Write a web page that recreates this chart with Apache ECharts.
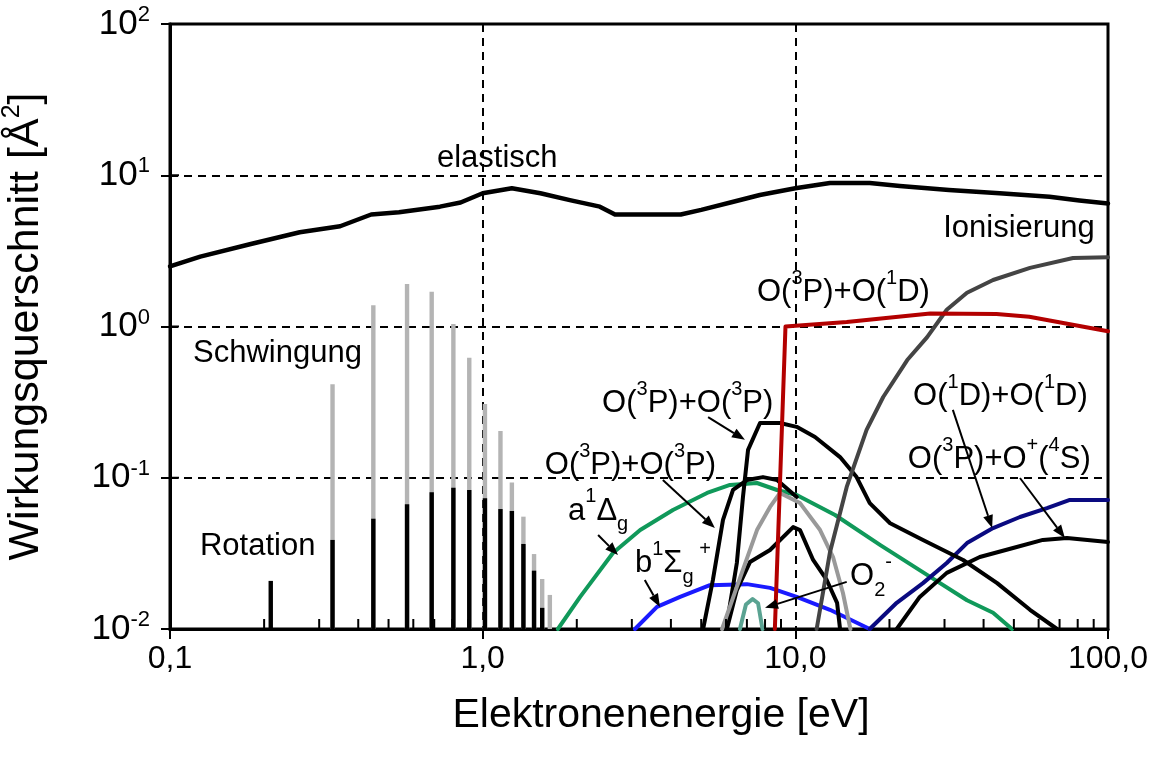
<!DOCTYPE html>
<html><head><meta charset="utf-8">
<script src="https://cdn.jsdelivr.net/npm/echarts@6/dist/echarts.min.js"></script>
<style>html,body{margin:0;padding:0;background:#fff}#c{width:1151px;height:762px}</style>
</head><body><div id="c"></div>
<script>
// ---------- data ----------
const xTickLabels = {'-1': '0,1', '0': '1,0', '1': '10,0', '2': '100,0'};
const xMinorTicks = [0.2,0.3,0.4,0.5,0.6,0.7,0.8,0.9,2,3,4,5,6,7,8,9,20,30,40,50,60,70,80,90];
const yMajorTicks = [0.01, 0.1, 1, 10, 100];

// Rotation / Schwingung line spectra (energy eV, cross-section Å²)
const lineEnergies    = [0.21, 0.331, 0.447, 0.573, 0.687, 0.806, 0.906, 1.017, 1.14, 1.24, 1.35, 1.46, 1.55, 1.64];
const rotationValues  = [0.0208, 0.0388, 0.0536, 0.0668, 0.0802, 0.0859, 0.083, 0.0731, 0.0621, 0.0603, 0.0365, 0.0243, 0.0138, null];
const vibrationValues = [null, 0.415, 1.38, 1.91, 1.70, 1.04, 0.622, 0.307, 0.204, 0.093, 0.0553, 0.0313, 0.0214, 0.0168];

const elastic = [[0.1,2.5],[0.125,2.9],[0.18,3.5],[0.26,4.2],[0.35,4.6],[0.44,5.5],[0.54,5.7],[0.73,6.2],[0.85,6.6],[1.0,7.6],[1.24,8.2],[1.53,7.6],[1.9,6.85],[2.37,6.2],[2.65,5.5],[3.2,5.5],[4.3,5.5],[5.0,5.9],[6.2,6.6],[7.7,7.4],[10,8.2],[12.9,8.9],[17.3,8.9],[21.6,8.5],[31,8.0],[45,7.6],[65,7.2],[81,6.8],[100,6.5]];
const ionisation = [[11.7,0.01],[12.9,0.032],[14.6,0.087],[16.9,0.207],[19.1,0.342],[22.8,0.60],[26.4,0.85],[30.5,1.29],[35.4,1.67],[42.9,2.03],[56.3,2.44],[77.3,2.84],[100,2.87]];
const o3pO1d = [[8.6,0.01],[9.3,1.0],[14.6,1.07],[27,1.22],[44,1.21],[56,1.16],[100,0.93]];
const a1Delta = [[1.74,0.01],[2.05,0.0163],[2.61,0.0318],[3.19,0.0451],[4.06,0.0612],[5.22,0.0793],[6.18,0.0896],[7.54,0.0923],[8.74,0.083],[10.1,0.0769],[13.4,0.0567],[18.7,0.0359],[27,0.0221],[35.4,0.0155],[42.9,0.0128],[49.3,0.01]];
const b1Sigma = [[3.07,0.01],[3.61,0.014],[4.28,0.0163],[5.33,0.0195],[7.0,0.0198],[8.3,0.0187],[10.1,0.0163],[12.9,0.0134],[17.3,0.01]];
const o1dO1d = [[17.3,0.01],[21.1,0.0149],[25.6,0.0201],[30.5,0.0273],[35.4,0.037],[42.9,0.0465],[52.3,0.055],[63.8,0.063],[75.5,0.0713],[100,0.0713]];
const o3pOplus = [[21.1,0.01],[25.0,0.0163],[30.5,0.0235],[38.9,0.0299],[49.7,0.0343],[61.9,0.0388],[73.9,0.040],[100,0.0376]];
const o3pO3pUpper = [[6.0,0.01],[6.5,0.0273],[6.8,0.0746],[7.06,0.153],[7.71,0.23],[8.93,0.23],[10.1,0.217],[11.56,0.186],[13.9,0.137],[15.7,0.101],[17.3,0.068],[20.1,0.05],[25.6,0.0388],[34.4,0.0286],[44.2,0.0201],[56.3,0.0134],[68.7,0.01]];
const o3pO3pLower = [[5.07,0.01],[5.45,0.0211],[5.87,0.0526],[6.32,0.083],[7.0,0.0966],[7.88,0.101],[8.74,0.0966],[10.1,0.0746]];
const grayBand = [[5.83,0.01],[6.5,0.019],[7.54,0.0451],[8.3,0.0641],[8.93,0.0793],[10.35,0.068],[12.0,0.0451],[13.2,0.0299],[14.2,0.0173],[15.0,0.01]];
const blackBand = [[6.04,0.01],[6.5,0.0181],[7.16,0.0277],[8.3,0.0333],[9.84,0.0472],[10.35,0.0451],[11.4,0.0286],[12.6,0.0211],[13.6,0.0149],[13.9,0.01]];
const o2minus = [[6.65,0.01],[6.95,0.0145],[7.3,0.0158],[7.6,0.0148],[7.85,0.01]];

// annotation texts (rich) anchored at [energy, cross-section] (left, middle)
const labelTexts = [
  ['elastisch', '{n|elastisch}', [0.714, 13.0]],
  ['Ionisierung', '{n|Ionisierung}', [29.7, 4.48]],
  ['O3P+O1D', '{n|O(}{sup|3}{n|P)+O(}{sup|1}{n|D)}', [7.54, 1.69]],
  ['Schwingung', '{n|Schwingung}', [0.1185, 0.668]],
  ['Rotation', '{n|Rotation}', [0.1247, 0.0354]],
  ['O3P+O3P a', '{n|O(}{sup|3}{n|P)+O(}{sup|3}{n|P)}', [2.41, 0.312]],
  ['O3P+O3P b', '{n|O(}{sup|3}{n|P)+O(}{sup|3}{n|P)}', [1.58, 0.1214]],
  ['a1Dg', '{n|a}{sup|1}{n|Δ}{sub|g}', [1.875, 0.0603]],
  ['b1Sg+', '{n|b}{sup|1}{n|Σ}{sub|g}{sup| +}', [3.07, 0.0273]],
  ['O2-', '{n|O}{sub|2}{sup|-}', [14.96, 0.0221]],
  ['O1D+O1D', '{n|O(}{sup|1}{n|D)+O(}{sup|1}{n|D)}', [23.8, 0.347]],
  ['O3P+O+4S', '{n|O(}{sup|3}{n|P)+O}{sup|+}{n|(}{sup|4}{n|S)}', [22.9, 0.133]]
];
// arrows: [from, to] in data coordinates
const arrows = [
  [[5.26,0.252],[6.90,0.178]],
  [[3.77,0.0966],[5.53,0.0465]],
  [[2.34,0.0418],[2.71,0.0308]],
  [[3.30,0.0211],[3.69,0.014]],
  [[14.6,0.0205],[8.0,0.0138]],
  [[31.9,0.281],[42.6,0.0465]],
  [[52.3,0.0996],[72.8,0.040]]
];

// ---------- chart ----------
const FONT = '"Liberation Sans", Arial, sans-serif';
const X_MIN = 0.1, X_MAX = 100, Y_MIN = 0.01, Y_MAX = 100;
const chart = echarts.init(document.getElementById('c'), null, {renderer: 'canvas'});

function lineSeries(name, data, color, width, z) {
  return {name, type: 'line', data, showSymbol: false, symbol: 'none', z: z || 3,
    lineStyle: {color, width, join: 'round', cap: 'round'}, silent: true, animation: false};
}
function barSeries(name, energies, values, color, z) {
  const d = [];
  energies.forEach((e, i) => { if (values[i] != null) d.push([e, values[i]]); });
  return {name, type: 'custom', data: d, z, encode: {x: 0, y: 1}, silent: true,
    renderItem: (params, api) => {
      const p0 = api.coord([api.value(0), Y_MIN]);
      const p1 = api.coord([api.value(0), api.value(1)]);
      return {type: 'rect', shape: {x: p0[0] - 2.2, y: p1[1], width: 4.4, height: p0[1] - p1[1]}, style: {fill: color}};
    }};
}
const richStyles = {
  n: {fontSize: 31, fontFamily: FONT, lineHeight: 48, fill: '#000', verticalAlign: 'middle'},
  sup: {fontSize: 20, fontFamily: FONT, lineHeight: 20, fill: '#000', verticalAlign: 'top'},
  sub: {fontSize: 20, fontFamily: FONT, lineHeight: 20, fill: '#000', verticalAlign: 'bottom'}
};

const option = {
  animation: false,
  backgroundColor: '#fff',
  grid: {left: 170, top: 24, width: 938, height: 605, containLabel: false, outerBoundsMode: 'none',
    show: true, borderColor: '#000', borderWidth: 3, backgroundColor: 'transparent'},
  xAxis: {
    type: 'log', logBase: 10, min: X_MIN, max: X_MAX,
    name: 'Elektronenenergie [eV]', nameLocation: 'middle', nameGap: 66,
    nameTextStyle: {fontSize: 41, fontFamily: FONT, color: '#000', lineHeight: 42, padding: [0, 0, 0, 44]},
    axisLine: {show: true, lineStyle: {color: '#000', width: 3}},
    axisTick: {show: true, inside: false, length: 10, lineStyle: {color: '#000', width: 2}},
    axisLabel: {fontSize: 32, fontFamily: FONT, color: '#000', margin: 14,
      formatter: v => xTickLabels[String(Math.round(Math.log10(v)))] || ''},
    splitLine: {show: true, lineStyle: {color: '#000', width: 2, type: [8, 6]}},
    minorTick: {show: false}
  },
  yAxis: {
    type: 'log', logBase: 10, min: Y_MIN, max: Y_MAX,
    name: '{n|Wirkungsquerschnitt [Å}{s|2}{n|]}', nameLocation: 'middle', nameGap: 118, nameRotate: 90,
    nameTextStyle: {fontSize: 43, fontFamily: FONT, color: '#000', lineHeight: 42,
      rich: {n: {fontSize: 43, fontFamily: FONT, color: '#000', lineHeight: 52},
             s: {fontSize: 25, fontFamily: FONT, color: '#000', lineHeight: 25, verticalAlign: 'top'}}},
    axisLine: {show: true, lineStyle: {color: '#000', width: 3}},
    axisTick: {show: true, inside: false, length: 9, lineStyle: {color: '#000', width: 2}},
    axisLabel: {margin: 20, fontFamily: FONT, color: '#000',
      formatter: v => '{b|10}{s|' + Math.round(Math.log10(v)) + '}',
      rich: {b: {fontSize: 35, fontFamily: FONT, color: '#000', lineHeight: 40},
             s: {fontSize: 22, fontFamily: FONT, color: '#000', lineHeight: 22, verticalAlign: 'top'}}},
    splitLine: {show: true, lineStyle: {color: '#000', width: 2, type: [8, 6]}}
  },
  series: [
    barSeries('Schwingung', lineEnergies, vibrationValues, '#b4b4b4', 2),
    barSeries('Rotation', lineEnergies, rotationValues, '#000', 2),
    lineSeries('a1Δg', a1Delta, '#10995a', 4, 3),
    lineSeries('b1Σg+', b1Sigma, '#1a1aff', 4, 3),
    lineSeries('O(1D)+O(1D)', o1dO1d, '#0a0a80', 4, 3),
    lineSeries('O(3P)+O+(4S)', o3pOplus, '#000', 4, 3),
    lineSeries('O(3P)+O(3P) upper', o3pO3pUpper, '#000', 4, 3),
    lineSeries('O(3P)+O(3P) lower', o3pO3pLower, '#000', 4, 3),
    lineSeries('black band', blackBand, '#000', 4, 3),
    lineSeries('gray band', grayBand, '#999', 4, 3),
    lineSeries('O2-', o2minus, '#5aa392', 4, 3),
    lineSeries('Ionisierung', ionisation, '#444', 4, 3),
    lineSeries('O(3P)+O(1D)', o3pO1d, '#b30000', 4, 3),
    lineSeries('elastisch', elastic, '#000', 4.5, 4),
    {
      name: 'minor ticks', type: 'custom', data: xMinorTicks.map(v => [v, Y_MIN]), z: 5, silent: true,
      encode: {x: 0, y: 1}, clip: false,
      renderItem: (params, api) => {
        const p = api.coord([api.value(0), Y_MIN]);
        return {type: 'line', shape: {x1: p[0], y1: p[1], x2: p[0], y2: p[1] - 10}, style: {stroke: '#000', lineWidth: 2}};
      }
    },
    {
      name: 'inner major ticks', type: 'custom', data: yMajorTicks.map(v => [X_MIN, v]), z: 5, silent: true,
      encode: {x: 0, y: 1}, clip: false,
      renderItem: (params, api) => {
        const p = api.coord([X_MIN, api.value(1)]);
        return {type: 'line', shape: {x1: p[0], y1: p[1], x2: p[0] + 9, y2: p[1]}, style: {stroke: '#000', lineWidth: 2}};
      }
    },
    {
      name: 'arrows', type: 'custom', data: arrows.map((a, i) => [a[0][0], a[0][1], i]), z: 6, silent: true,
      encode: {x: 0, y: 1}, clip: false,
      renderItem: (params, api) => {
        const a = arrows[api.value(2)];
        const p0 = api.coord(a[0]), p1 = api.coord(a[1]);
        const dx = p1[0] - p0[0], dy = p1[1] - p0[1], L = Math.hypot(dx, dy);
        const ux = dx / L, uy = dy / L, hl = 13, hw = 5;
        const bx = p1[0] - ux * hl, by = p1[1] - uy * hl;
        return {type: 'group', children: [
          {type: 'line', shape: {x1: p0[0], y1: p0[1], x2: bx, y2: by}, style: {stroke: '#000', lineWidth: 2}},
          {type: 'polygon', shape: {points: [[p1[0], p1[1]], [bx - uy * hw, by + ux * hw], [bx + uy * hw, by - ux * hw]]}, style: {fill: '#000'}}
        ]};
      }
    },
    {
      name: 'labels', type: 'custom', data: labelTexts.map((l, i) => [l[2][0], l[2][1], i]), z: 7, silent: true,
      encode: {x: 0, y: 1}, clip: false,
      renderItem: (params, api) => {
        const l = labelTexts[api.value(2)];
        const p = api.coord(l[2]);
        return {type: 'text', x: p[0], y: p[1],
          style: {text: l[1], rich: richStyles, align: 'left', verticalAlign: 'middle', fill: '#000', font: '31px ' + FONT}};
      }
    }
  ]
};
chart.setOption(option);
</script></body></html>
